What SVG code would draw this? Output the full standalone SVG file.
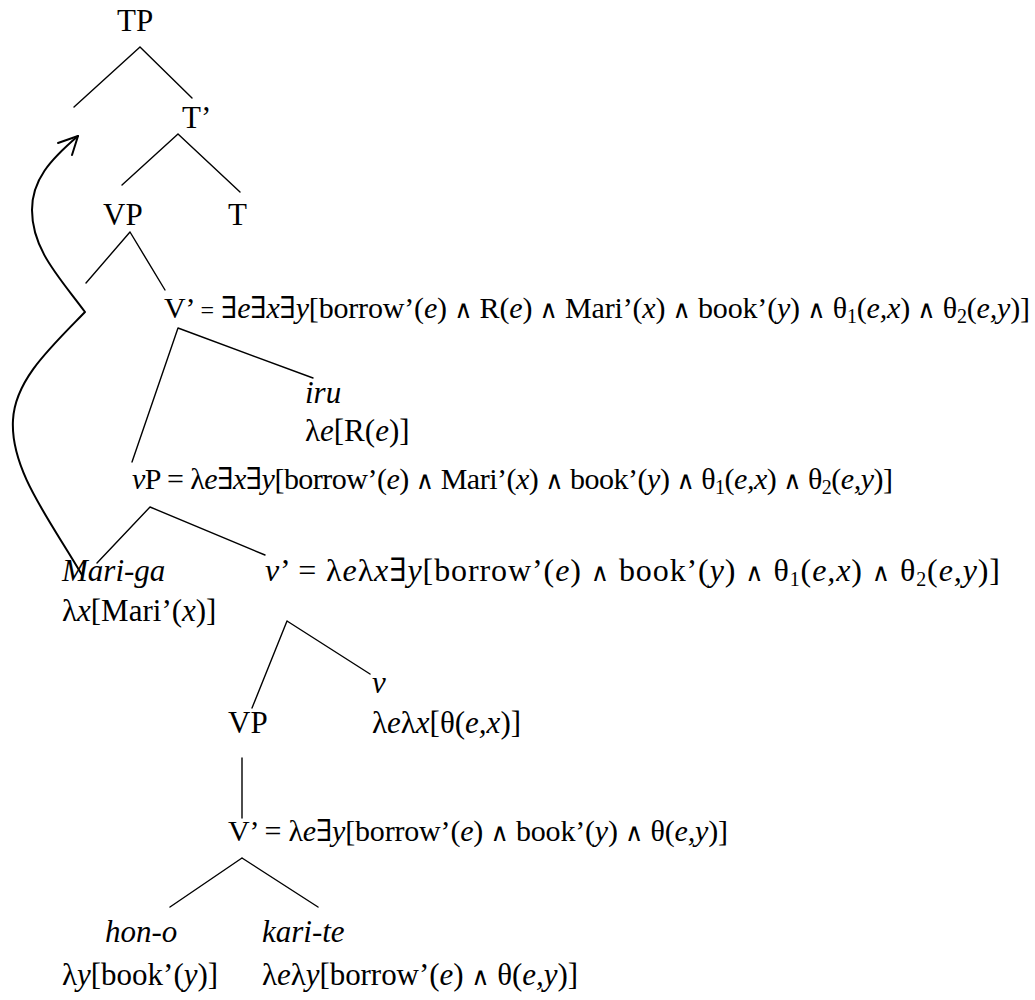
<svg xmlns="http://www.w3.org/2000/svg" width="1035" height="1000" viewBox="0 0 1035 1000">
  <style>
    .t { font-family: "Liberation Serif", "Times New Roman", "DejaVu Serif", serif; font-size: 31px; fill: #000; }
    .f { font-size: 30px; }
    .big { font-size: 32px; }
    .i { font-style: italic; }
    .sub { font-size: 20px; }
    .eq { font-size: 24px; }
    .op { font-size: 25px; }
    .edge { stroke: #000; stroke-width: 1.4; fill: none; stroke-linecap: round; }
    .move { stroke: #000; stroke-width: 2; fill: none; stroke-linecap: round; stroke-linejoin: round; }
  </style>
  <rect width="1035" height="1000" fill="#fff"/>

  <!-- tree branches -->
  <g id="connectors">
    <path class="edge" d="M140,47 L74,107 M140,47 L192,98"/>
    <path class="edge" d="M178,134 L122,185 M178,134 L240,192"/>
    <path class="edge" d="M130,232 L86,283 M130,232 L165,290"/>
    <path class="edge" d="M178,328 L132,462 M178,328 L313,378"/>
    <path class="edge" d="M150,507 L97,563 M150,507 L265,555"/>
    <path class="edge" d="M287,621 L252,708 M287,621 L370,674"/>
    <path class="edge" d="M242,758 L242,818"/>
    <path class="edge" d="M242,858 L170,907 M242,858 L318,907"/>
    <!-- movement of the subject to Spec,TP -->
    <path class="move" d="M82,575 C50,520 10,470 13,420 C15,380 50,348 85,312 C60,278 32,250 32,210 C32,180 50,160 78,136"/>
    <path class="move" d="M58,143 L78,136 L72,155"/>
  </g>

  <g id="TP"><text class="t" x="117" y="31">TP</text></g>
  <g id="Tbar"><text class="t" x="182" y="128">T’</text></g>
  <g id="VP-top"><text class="t" x="103" y="225">VP</text></g>
  <g id="T"><text class="t" x="228" y="225">T</text></g>

  <g id="Vbar-top">
    <text class="t f" x="164" y="318" textLength="866">V’ <tspan class="eq">=</tspan> ∃<tspan class="i">e</tspan>∃<tspan class="i">x</tspan>∃<tspan class="i">y</tspan>[borrow’(<tspan class="i">e</tspan>) <tspan class="op">∧</tspan> R(<tspan class="i">e</tspan>) <tspan class="op">∧</tspan> Mari’(<tspan class="i">x</tspan>) <tspan class="op">∧</tspan> book’(<tspan class="i">y</tspan>) <tspan class="op">∧</tspan> θ<tspan class="sub" dy="5">1</tspan><tspan dy="-5">(</tspan><tspan class="i">e,x</tspan>) <tspan class="op">∧</tspan> θ<tspan class="sub" dy="5">2</tspan><tspan dy="-5">(</tspan><tspan class="i">e,y</tspan>)]</text>
  </g>

  <g id="iru">
    <text class="t i" x="305" y="403">iru</text>
    <text class="t" x="305" y="441">λ<tspan class="i">e</tspan>[R(<tspan class="i">e</tspan>)]</text>
  </g>

  <g id="vP">
    <text class="t f" x="132" y="489" textLength="761"><tspan class="i">v</tspan>P  = λ<tspan class="i">e</tspan>∃<tspan class="i">x</tspan>∃<tspan class="i">y</tspan>[borrow’(<tspan class="i">e</tspan>) <tspan class="op">∧</tspan> Mari’(<tspan class="i">x</tspan>) <tspan class="op">∧</tspan> book’(<tspan class="i">y</tspan>) <tspan class="op">∧</tspan> θ<tspan class="sub" dy="5">1</tspan><tspan dy="-5">(</tspan><tspan class="i">e,x</tspan>) <tspan class="op">∧</tspan> θ<tspan class="sub" dy="5">2</tspan><tspan dy="-5">(</tspan><tspan class="i">e,y</tspan>)]</text>
  </g>

  <g id="Mari-ga">
    <text class="t i" x="62" y="581">Mari-ga</text>
    <text class="t" x="62" y="621">λ<tspan class="i">x</tspan>[Mari’(<tspan class="i">x</tspan>)]</text>
  </g>

  <g id="vbar">
    <text class="t big" x="265" y="581" textLength="735"><tspan class="i">v</tspan>’ = λ<tspan class="i">e</tspan>λ<tspan class="i">x</tspan>∃<tspan class="i">y</tspan>[borrow’(<tspan class="i">e</tspan>) <tspan class="op">∧</tspan> book’(<tspan class="i">y</tspan>) <tspan class="op">∧</tspan> θ<tspan class="sub" dy="5">1</tspan><tspan dy="-5">(</tspan><tspan class="i">e,x</tspan>) <tspan class="op">∧</tspan> θ<tspan class="sub" dy="5">2</tspan><tspan dy="-5">(</tspan><tspan class="i">e,y</tspan>)]</text>
  </g>

  <g id="v">
    <text class="t i" x="372" y="693">v</text>
    <text class="t" x="372" y="733">λ<tspan class="i">e</tspan>λ<tspan class="i">x</tspan>[θ(<tspan class="i">e,x</tspan>)]</text>
  </g>

  <g id="VP-low"><text class="t" x="228" y="733">VP</text></g>

  <g id="Vbar-low">
    <text class="t f" x="228" y="841" textLength="500">V’ = λ<tspan class="i">e</tspan>∃<tspan class="i">y</tspan>[borrow’(<tspan class="i">e</tspan>) <tspan class="op">∧</tspan> book’(<tspan class="i">y</tspan>) <tspan class="op">∧</tspan> θ(<tspan class="i">e,y</tspan>)]</text>
  </g>

  <g id="hon-o">
    <text class="t i" x="105" y="942">hon-o</text>
    <text class="t" x="62" y="985">λ<tspan class="i">y</tspan>[book’(<tspan class="i">y</tspan>)]</text>
  </g>

  <g id="kari-te">
    <text class="t i" x="262" y="942">kari-te</text>
    <text class="t" x="262" y="985" textLength="316">λ<tspan class="i">e</tspan>λ<tspan class="i">y</tspan>[borrow’(<tspan class="i">e</tspan>) <tspan class="op">∧</tspan> θ(<tspan class="i">e,y</tspan>)]</text>
  </g>
</svg>
